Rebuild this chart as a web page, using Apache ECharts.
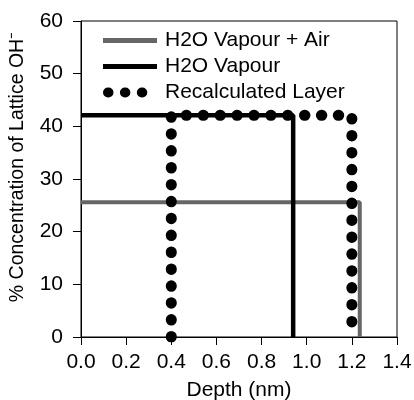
<!DOCTYPE html>
<html>
<head>
<meta charset="utf-8">
<script src="https://cdn.jsdelivr.net/npm/echarts@6/dist/echarts.min.js"></script>
<style>
  html, body { margin: 0; padding: 0; background: #fff; }
  #chart { width: 414px; height: 400px; }
</style>
</head>
<body>
<div id="chart"></div>
<script>
// depth (nm) vs % lattice OH- for each profile
var seriesNames = ['H2O Vapour + Air', 'H2O Vapour', 'Recalculated Layer'];
var vapourAir = [[0, 25.6], [1.235, 25.6], [1.235, 0]];
var vapour = [[0, 42.1], [0.94, 42.1], [0.94, 0]];
var recalculated = [[0.4, 0], [0.4, 42.1], [1.2, 42.1], [1.2, 0]];
var xTicks = [0, 0.2, 0.4, 0.6, 0.8, 1.0, 1.2, 1.4];
var yTicks = [0, 10, 20, 30, 40, 50, 60];

var font = 'Liberation Sans, Arial, sans-serif';

var chart = echarts.init(document.getElementById('chart'));

var option = {
  animation: false,
  grid: {
    left: 81,
    top: 21,
    right: 17,
    bottom: 63,
    show: true,
    borderColor: '#000',
    borderWidth: 1,
    containLabel: false,
    outerBoundsMode: 'none'
  },
  legend: {
    orient: 'vertical',
    left: 93,
    top: 25,
    itemWidth: 54,
    itemHeight: 14,
    itemGap: 5,
    itemStyle: { opacity: 0 },
    textStyle: { fontFamily: font, fontSize: 21, color: '#000', padding: [0, 0, 0, 3] },
    data: [
      { name: seriesNames[0], lineStyle: { width: 5 } },
      { name: seriesNames[1], lineStyle: { width: 5 } },
      { name: seriesNames[2], lineStyle: { width: 10, dashOffset: -5 } }
    ]
  },
  xAxis: {
    type: 'value',
    min: xTicks[0],
    max: xTicks[xTicks.length - 1],
    interval: 0.2,
    name: 'Depth (nm)',
    nameLocation: 'middle',
    nameGap: 43,
    nameTextStyle: { fontFamily: font, fontSize: 21, color: '#000' },
    axisLine: { lineStyle: { color: '#000', width: 1 } },
    axisTick: { show: true, length: 8, lineStyle: { color: '#000' } },
    axisLabel: {
      fontFamily: font, fontSize: 21, color: '#000', margin: 15,
      formatter: function (v) { return v.toFixed(1); }
    },
    splitLine: { show: false }
  },
  yAxis: {
    type: 'value',
    min: yTicks[0],
    max: yTicks[yTicks.length - 1],
    interval: 10,
    name: '% Concentration of Lattice OH\u207B',
    nameLocation: 'middle',
    nameGap: 53,
    nameTextStyle: { fontFamily: font, fontSize: 19.5, color: '#000', padding: [0, 0, 0, 24] },
    axisLine: { show: true, lineStyle: { color: '#000', width: 1 } },
    axisTick: { show: true, length: 8, lineStyle: { color: '#000' } },
    axisLabel: { fontFamily: font, fontSize: 21, color: '#000', margin: 18 },
    splitLine: { show: false }
  },
  series: [
    {
      name: seriesNames[0],
      type: 'line',
      data: vapourAir,
      symbol: 'none',
      lineStyle: { color: '#666', width: 4 },
      itemStyle: { color: '#666' },
      z: 2
    },
    {
      name: seriesNames[1],
      type: 'line',
      data: vapour,
      symbol: 'none',
      lineStyle: { color: '#000', width: 4.5 },
      itemStyle: { color: '#000' },
      z: 3
    },
    {
      name: seriesNames[2],
      type: 'line',
      data: recalculated,
      symbol: 'none',
      lineStyle: { color: '#000', width: 11, type: [0.5, 16.4], cap: 'round', join: 'round' },
      itemStyle: { color: '#000' },
      z: 4
    }
  ]
};

chart.setOption(option);
</script>
</body>
</html>
